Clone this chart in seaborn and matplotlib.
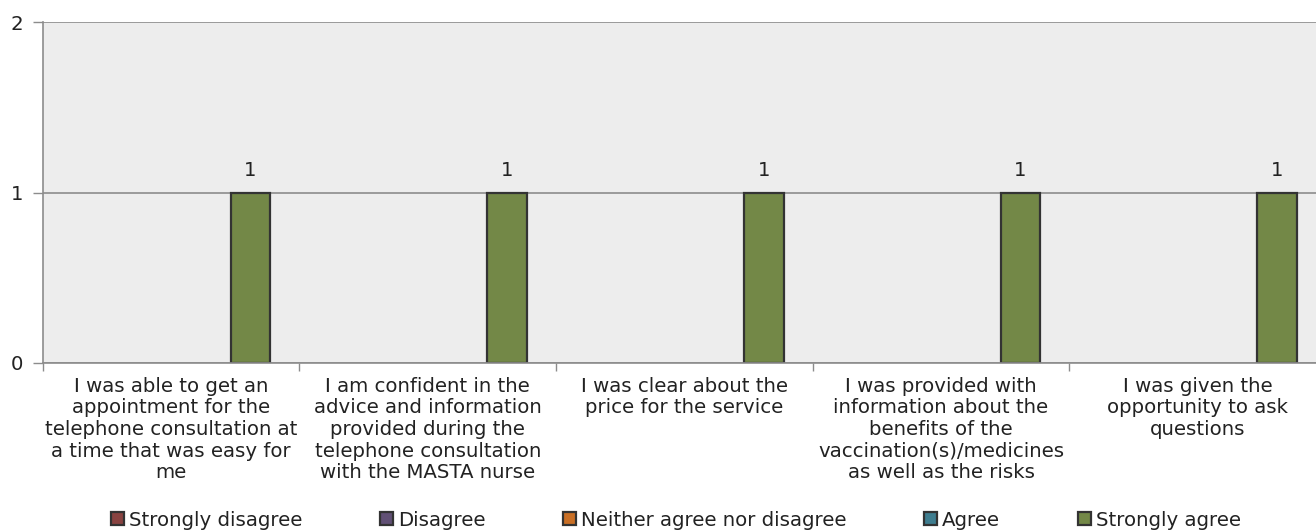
import numpy as np
import pandas as pd
import matplotlib
matplotlib.use("Agg")
import matplotlib.pyplot as plt
import seaborn as sns

categories = [
    "I was able to get an\nappointment for the\ntelephone consultation at\na time that was easy for\nme",
    "I am confident in the\nadvice and information\nprovided during the\ntelephone consultation\nwith the MASTA nurse",
    "I was clear about the\nprice for the service",
    "I was provided with\ninformation about the\nbenefits of the\nvaccination(s)/medicines\nas well as the risks",
    "I was given the\nopportunity to ask\nquestions",
]
series_names = ["Strongly disagree", "Disagree", "Neither agree nor disagree", "Agree", "Strongly agree"]
strongly_disagree = [0, 0, 0, 0, 0]
disagree = [0, 0, 0, 0, 0]
neither = [0, 0, 0, 0, 0]
agree = [0, 0, 0, 0, 0]
strongly_agree = [1, 1, 1, 1, 1]
colors = ["#953735", "#604A7B", "#E46C0A", "#31859C", "#77933C"]
y_ticks = [0, 1, 2]

series_values = [strongly_disagree, disagree, neither, agree, strongly_agree]
rows = []
for name, vals in zip(series_names, series_values):
    for c, v in zip(categories, vals):
        rows.append({"category": c, "series": name, "value": v})
df = pd.DataFrame(rows)

sns.set_theme(style="white")
plt.rcParams["font.family"] = ["DejaVu Sans"]
FS = 14.2
TXT = "#222222"

fig = plt.figure(figsize=(13.16, 5.32), dpi=100)
ax = fig.add_axes([42.7 / 1316, (532 - 363) / 532, (1326 - 42.7) / 1316, (363 - 22) / 532])
ax.set_facecolor("#EDEDED")

sns.barplot(data=df, x="category", y="value", hue="series", hue_order=series_names,
            order=categories, palette=colors, width=0.775, edgecolor="#333333",
            linewidth=1.6, ax=ax, legend=True)

for container in ax.containers:
    for p in container.patches:
        if p.get_height() == 0:
            p.set_visible(False)
    labels = ["%g" % p.get_height() if p.get_height() > 0 else "" for p in container.patches]
    ax.bar_label(container, labels=labels, padding=9, fontsize=FS, color=TXT)

ax.set_ylim(0, 2)
ax.set_xlim(-0.5, len(categories) - 0.5)
ax.set_yticks(y_ticks)
ax.set_yticklabels([str(t) for t in y_ticks], fontsize=FS, color=TXT)
ax.yaxis.grid(True, color="#8C8C8C", linewidth=1.2)
ax.set_axisbelow(True)
ax.set_xlabel("")
ax.set_ylabel("")
ax.set_xticks(range(len(categories)))
ax.set_xticklabels(categories, fontsize=FS, color=TXT, linespacing=1.17)
ax.tick_params(axis="x", which="major", length=0, pad=10)
ax.set_xticks(np.arange(-0.5, len(categories), 1.0), minor=True)
ax.tick_params(axis="x", which="minor", length=6, color="#8C8C8C", width=1, bottom=True)
ax.tick_params(axis="y", length=7, color="#8C8C8C", width=1, left=True, pad=7)
for s in ["top", "right"]:
    ax.spines[s].set_visible(False)
for s in ["left", "bottom"]:
    ax.spines[s].set_color("#8C8C8C")
    ax.spines[s].set_linewidth(1.2)

handles, labels = ax.get_legend_handles_labels()
ax.legend_.remove()
fig.legend(handles, labels, loc="center", bbox_to_anchor=(676 / 1316, 1 - 520 / 532),
           ncol=5, frameon=False, fontsize=FS, handlelength=0.65, handleheight=0.65,
           handletextpad=0.25, columnspacing=3.95, labelcolor=TXT)

fig.savefig("out.png", dpi=100)
